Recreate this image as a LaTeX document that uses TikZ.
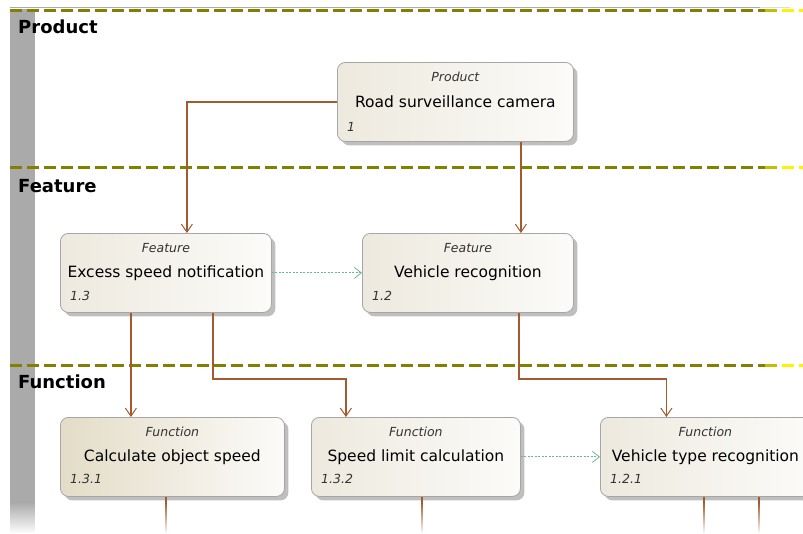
\documentclass[tikz,border=0pt]{standalone}
\usepackage{fontspec}
\setmainfont{DejaVu Sans}
\usetikzlibrary{arrows.meta,shadows,fadings}
\definecolor{lanegray}{HTML}{AAAAAA}
\definecolor{laneolive}{HTML}{838000}
\definecolor{linkbrown}{HTML}{A25A2E}
\definecolor{tracegreen}{HTML}{6AB893}
\definecolor{boxedge}{HTML}{A6A6A6}
\definecolor{boxleft}{HTML}{EDE9DE}
\definecolor{boxdark}{HTML}{E3DCC7}
\definecolor{boxright}{HTML}{FCFBF9}

\begin{document}
\begin{tikzpicture}[x=1pt,y=-1pt,
	lane/.style={line width=3pt,dash pattern=on 12pt off 5pt},
	lanetitle/.style={anchor=west,inner sep=0pt,font=\fontsize{18}{18}\selectfont\bfseries},
	block/.style={draw=boxedge,line width=0.8pt,rounded corners=8pt,anchor=north west,
		left color=boxleft,right color=boxright,minimum height=79pt,inner sep=0pt,
		font=\fontsize{15.5}{15.5}\selectfont,
		drop shadow={shadow xshift=4pt,shadow yshift=-4pt,fill=black!25,opacity=1}},
	darkblock/.style={block,left color=boxdark},
	stereo/.style={inner sep=0pt,font=\fontsize{12.5}{12.5}\selectfont\itshape,text=black!80},
	ident/.style={anchor=west,inner sep=0pt,font=\fontsize{12.5}{12.5}\selectfont\itshape,text=black!80},
	wire/.style={linkbrown,line width=1.4pt},
	link/.style={wire,-{Straight Barb[length=8pt,width=11pt,line width=1pt]}},
	trace/.style={tracegreen,line width=1pt,dash pattern=on 2pt off 1.5pt,
		-{Straight Barb[length=7pt,width=11pt,line width=0.8pt]}}]
	\clip (0,0) rectangle (803,533);
	\fill[white] (0,0) rectangle (803,533);
	\draw[lanegray,line width=1pt] (10,7) -- (760,7);
	\draw[lanegray!40,line width=1pt] (760,7) -- (790,7);
	\fill[lanegray] (10,9) rectangle (35,533);
	\foreach \y in {10,167,365} {
		\draw[lane,laneolive] (10,\y) -- (765,\y);
		\draw[lane,laneolive!50!yellow] (765,\y) -- (782,\y);
		\draw[lane,yellow] (782,\y) -- (803,\y);
	}
	\node[lanetitle] (product-lane) at (18,27) {Product};
	\node[lanetitle] (feature-lane) at (18,186) {Feature};
	\node[lanetitle] (function-lane) at (18,382) {Function};
	\node[block,minimum width=236pt] (prod) at (337,62) {Road surveillance camera};
	\node[stereo] (prod-st) at ([yshift=-15pt]prod.north) {Product};
	\node[ident] (prod-id) at ([xshift=10pt,yshift=15pt]prod.south west) {1};
	\node[block,minimum width=211pt] (ens) at (60,233) {Excess speed notification};
	\node[stereo] (ens-st) at ([yshift=-15pt]ens.north) {Feature};
	\node[ident] (ens-id) at ([xshift=10pt,yshift=17pt]ens.south west) {1.3};
	\node[block,minimum width=211pt] (vr) at (362,233) {Vehicle recognition};
	\node[stereo] (vr-st) at ([yshift=-15pt]vr.north) {Feature};
	\node[ident] (vr-id) at ([xshift=10pt,yshift=17pt]vr.south west) {1.2};
	\node[darkblock,minimum width=224pt] (calc) at (60,417) {Calculate object speed};
	\node[stereo] (calc-st) at ([yshift=-15pt]calc.north) {Function};
	\node[ident] (calc-id) at ([xshift=10pt,yshift=18pt]calc.south west) {1.3.1};
	\node[block,minimum width=209pt] (sl) at (311,417) {Speed limit calculation};
	\node[stereo] (sl-st) at ([yshift=-15pt]sl.north) {Function};
	\node[ident] (sl-id) at ([xshift=10pt,yshift=18pt]sl.south west) {1.3.2};
	\node[block,minimum width=210pt] (vt) at (600,417) {Vehicle type recognition};
	\node[stereo] (vt-st) at ([yshift=-15pt]vt.north) {Function};
	\node[ident] (vt-id) at ([xshift=10pt,yshift=18pt]vt.south west) {1.2.1};
	\draw[link] (prod.west) -| ([xshift=21pt]ens.north);
	\draw[link] ([xshift=53pt]vr.north |- prod.south) -- ([xshift=53pt]vr.north);
	\draw[trace] (ens.east) -- (vr.west);
	\draw[link] ([xshift=-35pt]ens.south) -- ([xshift=-35pt]ens.south |- calc.north);
	\draw[link] ([xshift=47pt]ens.south) -- ++(0,66) -| ([xshift=-70pt]sl.north);
	\draw[link] ([xshift=51pt]vr.south) -- ++(0,66) -| ([xshift=-39pt]vt.north);
	\draw[trace] (sl.east) -- (vt.west);
	\coordinate (calc-end) at (166,533);
	\coordinate (sl-end) at (422,533);
	\coordinate (vt-end) at (704,533);
	\coordinate (vt-end2) at (759,533);
	\draw[wire] (calc.south -| calc-end) -- (calc-end);
	\draw[wire] (sl.south -| sl-end) -- (sl-end);
	\draw[wire] (vt.south -| vt-end) -- (vt-end);
	\draw[wire] (vt.south -| vt-end2) -- (vt-end2);
	\fill[white,path fading=north] (0,502) rectangle (803,534);
\end{tikzpicture}
\end{document}
